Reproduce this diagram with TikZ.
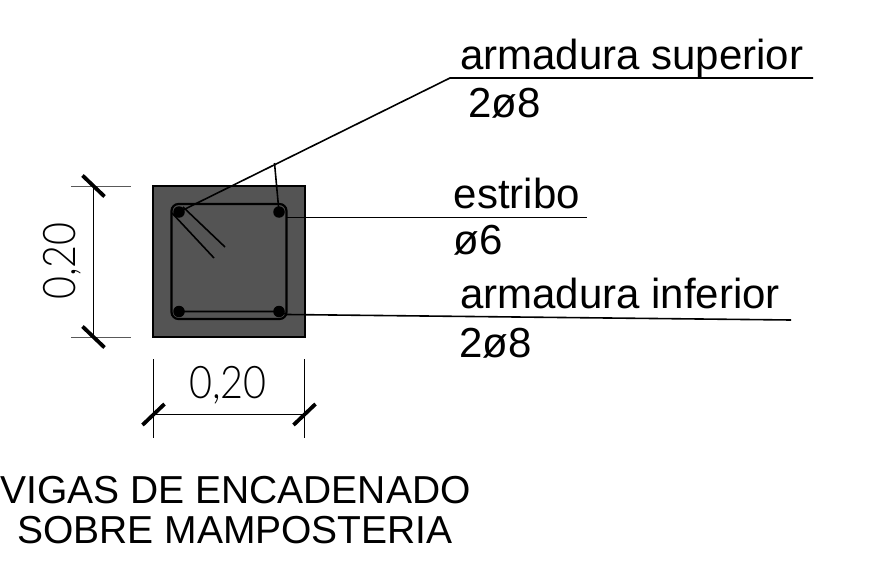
\documentclass[tikz,border=0pt]{standalone}
\usepackage{fontspec}
\setmainfont{Liberation Sans}
\newfontfamily\dimfont{Lato Light}
\tikzset{
 lab/.style={anchor=base west,inner sep=0pt,font=\fontsize{42}{42}\selectfont,text=black},
 titlelab/.style={anchor=base,inner sep=0pt,font=\fontsize{39}{39}\selectfont,text=black},
 dimlab/.style={inner sep=0pt,font=\dimfont\fontsize{45}{45}\selectfont,text=black},
 leader/.style={draw=black,line width=1.6pt},
 ext/.style={draw=black!65,line width=1pt},
 dimline/.style={draw=black,line width=1.8pt},
 tick/.style={draw=black,line width=3.8pt},
 bar/.style={circle,fill=black,inner sep=0pt,minimum size=11.5pt},
}
\begin{document}
\begin{tikzpicture}[x=1pt,y=-1pt]
\useasboundingbox (0,0) rectangle (877,572);
\draw[fill=black!67,draw=black,line width=1.8pt] (153,186) rectangle (305,337);
\draw[draw=black,line width=2.2pt,rounded corners=7pt] (171.5,204) rectangle (286.5,319);
\node[bar] (b1) at (179,212) {};
\node[bar] (b2) at (279,212) {};
\node[bar] (b3) at (179,311.5) {};
\node[bar] (b4) at (279,311.5) {};
\coordinate (sup) at (450,78);
\coordinate (supend) at (813,78);
\coordinate (branch) at (274.5,163);
\coordinate (est) at (287,217.5);
\coordinate (estend) at (587,217.5);
\coordinate (infa) at (287,314.5);
\coordinate (infend) at (791,320);
\draw[leader] (b1.center) -- (sup) -- (supend);
\draw[leader] (branch) -- (b2.center);
\draw[leader] (est) -- (estend);
\draw[leader] (b3.center) -- (b4.center) -- (infa) -- (infend);
\coordinate (h1a) at (183,207); \coordinate (h1b) at (225,247);
\coordinate (h2a) at (172,213); \coordinate (h2b) at (214,258);
\draw[leader] (h1a) -- (h1b);
\draw[leader] (h2a) -- (h2b);
\node[lab] (t1) at (460,69.5) {armadura superior};
\node[lab] (t2) at (468,117.5) {2ø8};
\node[lab] (t3) at (453.5,208.5) {estribo};
\node[lab] (t4) at (453.5,254.5) {ø6};
\node[lab] (t5) at (460,308.5) {armadura inferior};
\node[lab] (t6) at (459,357) {2ø8};
\node[titlelab] (t7) at (235.5,503.5) {VIGAS DE ENCADENADO};
\node[titlelab] (t8) at (235,543.5) {SOBRE MAMPOSTERIA};
% vertical dimension
\coordinate (e1a) at (71,186); \coordinate (e1b) at (131,186);
\coordinate (e2a) at (71,337); \coordinate (e2b) at (131,337);
\draw[ext] (e1a) -- (e1b);
\draw[ext] (e2a) -- (e2b);
\coordinate (d1) at (93.5,186); \coordinate (d2) at (93.5,337);
\draw[dimline] (d1) -- (d2);
\draw[tick] ([shift={(-11,-10.5)}]d1) -- ([shift={(11,10.5)}]d1);
\draw[tick] ([shift={(-11,-10.5)}]d2) -- ([shift={(11,10.5)}]d2);
\node[dimlab,rotate=90,xscale=0.88] (dv) at (62,261) {0,20};
% horizontal dimension
\coordinate (e3a) at (153.5,359); \coordinate (e3b) at (153.5,438);
\coordinate (e4a) at (304.5,359); \coordinate (e4b) at (304.5,438);
\draw[ext,draw=black] (e3a) -- (e3b);
\draw[ext,draw=black] (e4a) -- (e4b);
\coordinate (d3) at (153.5,414.5); \coordinate (d4) at (304.5,414.5);
\draw[dimline] (d3) -- (d4);
\draw[tick] ([shift={(-11,10.5)}]d3) -- ([shift={(11,-10.5)}]d3);
\draw[tick] ([shift={(-11,10.5)}]d4) -- ([shift={(11,-10.5)}]d4);
\node[dimlab,xscale=0.88] (dh) at (228,385) {0,20};
\end{tikzpicture}
\end{document}
